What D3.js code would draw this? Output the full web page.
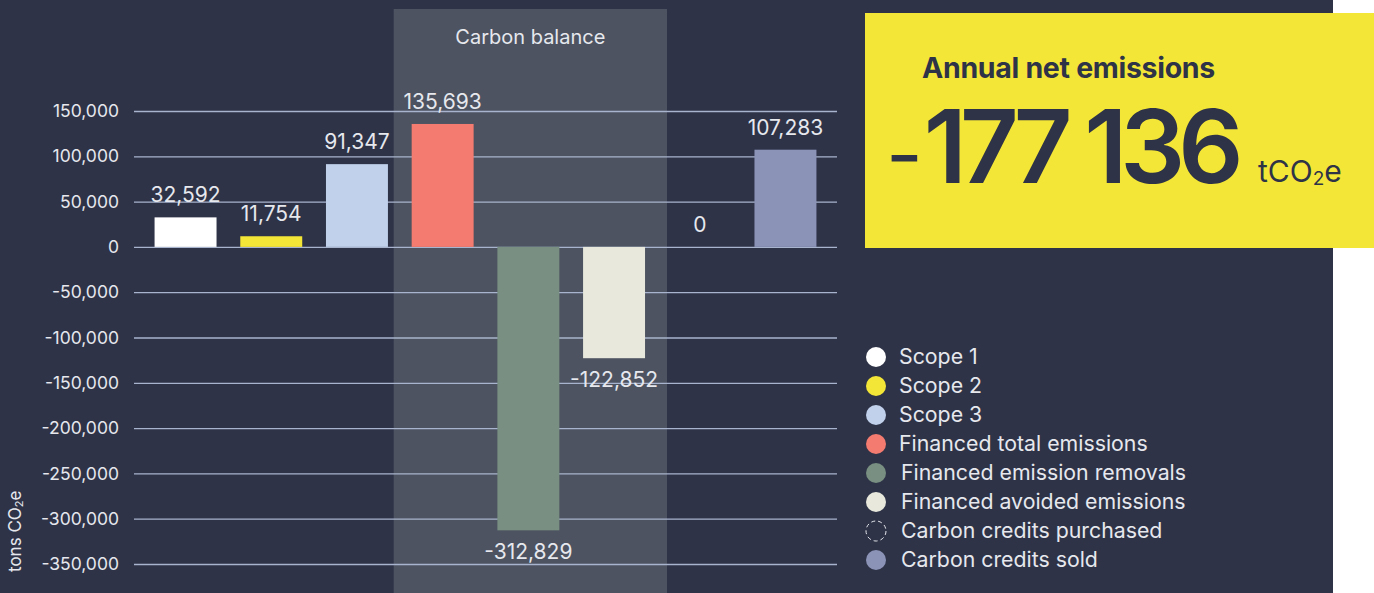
<!DOCTYPE html>
<html>
<head>
<meta charset="utf-8">
<script src="https://cdn.jsdelivr.net/npm/d3@7"></script>
<style>
  body { margin: 0; background: #ffffff; }
  svg { display: block; font-family: Inter, "Noto Sans", sans-serif; }
</style>
</head>
<body>
<svg width="1374" height="593"></svg>
<script>
// Data
var categories = ["Scope 1", "Scope 2", "Scope 3", "Financed total emissions",
  "Financed emission removals", "Financed avoided emissions",
  "Carbon credits purchased", "Carbon credits sold"];
var values = [32592, 11754, 91347, 135693, -312829, -122852, 0, 107283];
var colors = ["#ffffff", "#f4e637", "#c1d1ec", "#f47b6f", "#788f81", "#e8e9dc", "none", "#8b93b7"];
var yTicks = [150000, 100000, 50000, 0, -50000, -100000, -150000, -200000, -250000, -300000, -350000];
var balanceGroup = ["Financed total emissions", "Financed emission removals", "Financed avoided emissions"];
var netEmissions = -177136;

var svg = d3.select("svg"),
    width = +svg.attr("width"),
    height = +svg.attr("height");

var dark = "#2e3347";
var textCol = "#e6e8ee";

// backgrounds
svg.append("rect").attr("width", 1333).attr("height", height).attr("fill", dark);

var fmt = d3.formatLocale({decimal: ".", thousands: ",", grouping: [3], currency: ["", ""], minus: "-"}).format(",");

// scales
var x = d3.scaleBand()
    .domain(categories)
    .range([134, 837])
    .paddingInner(0.277)
    .paddingOuter(0.24);

var y = d3.scaleLinear()
    .domain([-350000, 150000])
    .range([564, 111]);

// carbon balance band
var bandX0 = x(balanceGroup[0]) - 18,
    bandX1 = x(balanceGroup[2]) + x.bandwidth() + 22;
svg.append("rect")
    .attr("x", bandX0).attr("y", 9)
    .attr("width", bandX1 - bandX0).attr("height", height - 9)
    .attr("fill", "#4d5361");
svg.append("text")
    .attr("x", (bandX0 + bandX1) / 2).attr("y", 44)
    .attr("text-anchor", "middle")
    .attr("fill", textCol)
    .style("font-size", "20px")
    .text("Carbon balance");

// y axis with gridlines
var yAxis = svg.append("g")
    .attr("transform", "translate(134,0)")
    .call(d3.axisLeft(y).tickValues(yTicks).tickSize(-(837 - 134)).tickPadding(15).tickFormat(fmt));
yAxis.select(".domain").remove();
yAxis.selectAll(".tick line").attr("stroke", "#a8b4cd").attr("stroke-width", 1.3);
yAxis.selectAll(".tick text").attr("fill", textCol).style("font-size", "17.5px")
    .style("font-family", "Inter, sans-serif");

svg.append("text")
    .attr("transform", "translate(21,572) rotate(-90)")
    .attr("fill", textCol)
    .style("font-size", "17px")
    .html('tons CO<tspan baseline-shift="-2" font-size="11">2</tspan>e');

// bars
svg.append("g")
    .selectAll("rect")
    .data(categories)
    .enter()
    .append("rect")
    .attr("x", d => x(d))
    .attr("width", x.bandwidth())
    .attr("y", (d, i) => y(Math.max(0, values[i])))
    .attr("height", (d, i) => Math.abs(y(values[i]) - y(0)))
    .attr("fill", (d, i) => colors[i]);

// value labels
svg.append("g")
    .selectAll("text")
    .data(categories)
    .enter()
    .append("text")
    .attr("x", d => x(d) + x.bandwidth() / 2)
    .attr("y", (d, i) => values[i] >= 0 ? y(values[i]) - 15 : y(values[i]) + 29)
    .attr("text-anchor", "middle")
    .attr("fill", textCol)
    .style("font-size", "21px")
    .text((d, i) => fmt(values[i]));

// net emissions box
var box = svg.append("g");
box.append("rect")
    .attr("x", 865).attr("y", 13)
    .attr("width", width - 865).attr("height", 235)
    .attr("fill", "#f4e637");
box.append("text")
    .attr("x", 922).attr("y", 78)
    .attr("fill", dark)
    .style("font-size", "28.5px").style("font-weight", 700)
    .style("letter-spacing", "-0.3px")
    .text("Annual net emissions");
var bigNum = d3.format(",")(Math.abs(netEmissions)).replace(",", " ");
var big = box.append("text")
    .attr("x", 886).attr("y", 183)
    .attr("fill", dark)
    .style("font-size", "102px").style("font-weight", 600)
    .style("letter-spacing", "-7px");
big.append("tspan")
    .style("font-weight", 400).style("font-size", "80px")
    .text(netEmissions < 0 ? "-" : "");
big.append("tspan").attr("dx", 8).text(bigNum);
box.append("text")
    .attr("x", 1258).attr("y", 182)
    .attr("fill", dark)
    .style("font-size", "30px")
    .html('tCO<tspan baseline-shift="-3" font-size="19">2</tspan>e');

// legend
var legend = svg.append("g")
    .selectAll("g")
    .data(categories)
    .enter()
    .append("g")
    .attr("transform", (d, i) => "translate(876," + (357 + i * 29) + ")");
legend.append("circle")
    .attr("r", 10)
    .attr("fill", (d, i) => colors[i])
    .attr("stroke", (d, i) => colors[i] === "none" ? "#e6e8ee" : "none")
    .attr("stroke-dasharray", "4 3");
legend.append("text")
    .attr("x", (d, i) => i < 4 ? 23 : 25)
    .attr("dy", "0.35em")
    .attr("fill", textCol)
    .style("font-size", "21.3px")
    .text(d => d);
</script>
</body>
</html>
